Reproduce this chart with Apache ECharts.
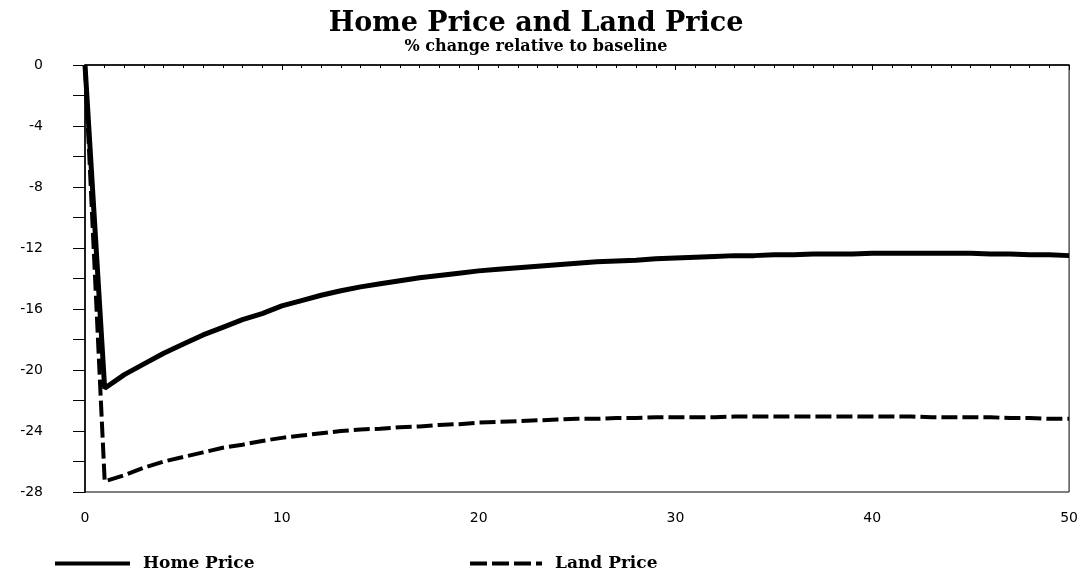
<!DOCTYPE html>
<html>
<head>
<meta charset="utf-8">
<title>Home Price and Land Price</title>
<script src="https://cdn.jsdelivr.net/npm/echarts@6/dist/echarts.min.js"></script>
<style>
  html, body { margin: 0; padding: 0; background: #fff; }
  #chart { width: 1081px; height: 577px; }
</style>
</head>
<body>
<div id="chart"></div>
<script>
// years after the shock
var years = []
for (var i = 0; i <= 50; i++) years.push(i)

// % change relative to baseline
var homePrice = [
  0, -21.2, -20.3, -19.6, -18.9, -18.3, -17.7, -17.2, -16.7, -16.3,
  -15.8, -15.45, -15.1, -14.8, -14.55, -14.35, -14.15, -13.95, -13.8, -13.65,
  -13.5, -13.4, -13.3, -13.2, -13.1, -13.0, -12.9, -12.85, -12.8, -12.7,
  -12.65, -12.6, -12.55, -12.5, -12.5, -12.45, -12.45, -12.4, -12.4, -12.4,
  -12.35, -12.35, -12.35, -12.35, -12.35, -12.35, -12.4, -12.4, -12.45, -12.45,
  -12.5
]
var landPrice = [
  0, -27.3, -26.9, -26.4, -26.0, -25.7, -25.4, -25.1, -24.9, -24.65,
  -24.45, -24.3, -24.15, -24.0, -23.9, -23.85, -23.75, -23.7, -23.6, -23.55,
  -23.45, -23.4, -23.35, -23.3, -23.25, -23.2, -23.2, -23.15, -23.15, -23.1,
  -23.1, -23.1, -23.1, -23.05, -23.05, -23.05, -23.05, -23.05, -23.05, -23.05,
  -23.05, -23.05, -23.05, -23.1, -23.1, -23.1, -23.1, -23.15, -23.15, -23.2,
  -23.2
]

var serif = '"DejaVu Serif", "Liberation Serif", serif'
var legendText = { fontFamily: serif, fontWeight: 'bold', fontSize: 17, color: '#000', padding: [0, 0, 0, 8] }

function pairs (ys) {
  return years.map(function (x, k) { return [x, ys[k]] })
}

var myChart = echarts.init(document.getElementById('chart'))
var option = {
  backgroundColor: '#fff',
  animation: false,
  title: {
    text: 'Home Price and Land Price',
    subtext: '% change relative to baseline',
    left: 531,
    textAlign: 'center',
    top: 5,
    itemGap: 2,
    textStyle: { fontFamily: serif, fontWeight: 'bold', fontSize: 27, color: '#000' },
    subtextStyle: { fontFamily: serif, fontWeight: 'bold', fontSize: 16, color: '#000' }
  },
  legend: [
    {
      left: 50,
      top: 550,
      itemWidth: 75,
      itemHeight: 4,
      data: [{ name: 'Home Price', icon: 'rect' }],
      textStyle: legendText
    },
    {
      left: 465,
      top: 550,
      itemWidth: 72,
      itemHeight: 4,
      data: [{ name: 'Land Price', icon: 'path://M0,0H17V4H0Z M22,0H39V4H22Z M44,0H61V4H44Z M66,0H72V4H66Z' }],
      textStyle: legendText
    }
  ],
  grid: {
    left: 85,
    right: 6,
    top: 65,
    bottom: 85,
    show: true,
    borderColor: '#000',
    borderWidth: 1
  },
  xAxis: {
    type: 'value',
    min: 0,
    max: 50,
    interval: 10,
    axisLine: { lineStyle: { color: '#000', width: 1.5 } },
    axisTick: { length: 5, lineStyle: { color: '#000' } },
    minorTick: { show: true, splitNumber: 10, length: 3, lineStyle: { color: '#000' } },
    splitLine: { show: false },
    axisLabel: { color: '#000', fontFamily: '"DejaVu Sans", sans-serif', fontSize: 14, margin: 19 }
  },
  yAxis: {
    type: 'value',
    min: -28,
    max: 0,
    interval: 4,
    axisLine: { show: true, lineStyle: { color: '#000', width: 1.5 } },
    axisTick: { show: true, length: 12, lineStyle: { color: '#000' } },
    minorTick: { show: true, splitNumber: 2, length: 12, lineStyle: { color: '#000' } },
    splitLine: { show: false },
    axisLabel: { color: '#000', fontFamily: '"DejaVu Sans", sans-serif', fontSize: 14, margin: 42, align: 'right' }
  },
  series: [
    {
      name: 'Land Price',
      type: 'line',
      data: pairs(landPrice),
      showSymbol: false,
      symbol: 'none',
      lineStyle: { color: '#000', width: 4, type: [16, 5] },
      itemStyle: { color: '#000' }
    },
    {
      name: 'Home Price',
      type: 'line',
      data: pairs(homePrice),
      showSymbol: false,
      symbol: 'none',
      lineStyle: { color: '#000', width: 5, type: 'solid' },
      itemStyle: { color: '#000' }
    }
  ]
}
myChart.setOption(option)
</script>
</body>
</html>
